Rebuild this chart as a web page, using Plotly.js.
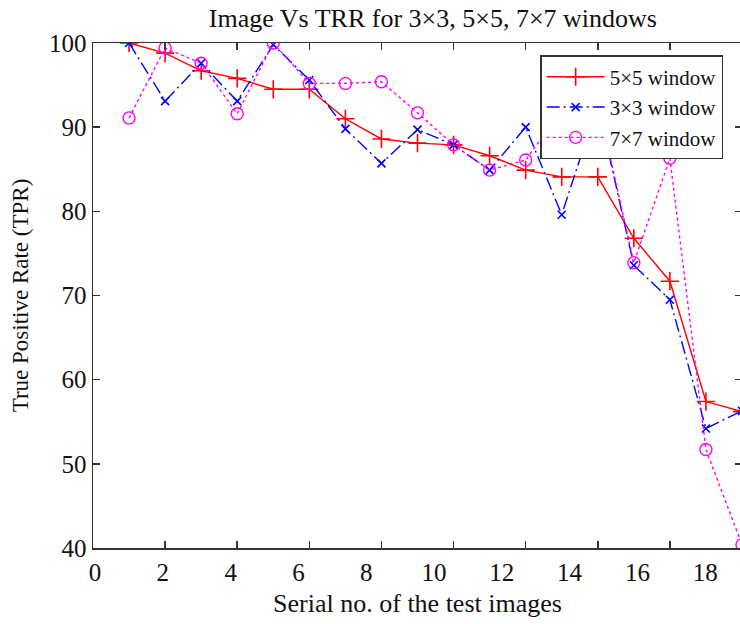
<!DOCTYPE html>
<html>
<head>
<meta charset="utf-8">
<script src="https://cdn.plot.ly/plotly-3.0.1.min.js"></script>
<style>
html, body { margin: 0; padding: 0; overflow: hidden; background: #fff; }
#chart { width: 745px; height: 624px; }
</style>
</head>
<body>
<div id="chart"></div>
<script>
// Serial numbers of the test images
const serialNo = [1, 2, 3, 4, 5, 6, 7, 8, 9, 10, 11, 12, 13, 14, 15, 16, 17, 18];
// True Positive Rate (TPR) per window size
const tpr5x5 = [100, 98.8, 96.7, 95.8, 94.5, 94.5, 91.0, 88.6, 88.1, 87.9, 86.6, 84.9, 84.1, 84.1, 76.8, 71.7, 57.4, 56.2];
const tpr3x3 = [100, 93.1, 97.6, 93.1, 99.8, 95.6, 89.8, 85.7, 89.7, 87.9, 84.9, 90.0, 79.6, 92.7, 73.6, 69.5, 54.2, 56.3];
const tpr7x7 = [91.1, 99.4, 97.6, 91.6, 100, 95.2, 95.2, 95.4, 91.7, 87.9, 84.9, 86.1, 92.0, 93.0, 73.9, 86.3, 51.7, 40.4];
const seriesNames = ['5×5 window', '3×3 window', '7×7 window'];
// Axis ticks
const xTickVals = [0, 2, 4, 6, 8, 10, 12, 14, 16, 18];
const yTickVals = [40, 50, 60, 70, 80, 90, 100];

const FONT = "'Liberation Serif', 'Times New Roman', serif";

const traces = [
  {
    x: serialNo, y: tpr5x5, name: seriesNames[0], type: 'scatter', mode: 'lines+markers',
    line: { color: '#ff0000', width: 1.4 },
    marker: { symbol: 'cross-thin-open', size: 13, line: { color: '#ff0000', width: 1.6 } }
  },
  {
    x: serialNo, y: tpr3x3, name: seriesNames[1], type: 'scatter', mode: 'lines+markers',
    line: { color: '#0000ff', width: 1.4, dash: '13px,4px,2px,4px' },
    marker: { symbol: 'x-thin-open', size: 8, line: { color: '#0000ff', width: 1.6 } }
  },
  {
    x: serialNo, y: tpr7x7, name: seriesNames[2], type: 'scatter', mode: 'lines+markers',
    line: { color: '#ff00ff', width: 1.4, dash: '3px,3px' },
    marker: { symbol: 'circle-open', size: 12, line: { color: '#ff00ff', width: 1.4 } }
  },
  // carrier for the label axis
  { x: [], y: [], xaxis: 'x2', yaxis: 'y', showlegend: false, hoverinfo: 'skip', type: 'scatter' }
];

const layout = {
  width: 745, height: 624,
  margin: { l: 93, r: 3, t: 43, b: 76 },
  paper_bgcolor: '#ffffff', plot_bgcolor: '#ffffff',
  font: { family: FONT, size: 25, color: '#111' },
  showlegend: true,
  title: {
    text: 'Image Vs TRR for 3×3, 5×5, 7×7 windows',
    font: { family: FONT, size: 26, color: '#111' },
    x: 0.581, xanchor: 'center', xref: 'container',
    y: 0.971, yanchor: 'middle', yref: 'container'
  },
  xaxis: {
    range: [0, 18],
    tickvals: xTickVals,
    showticklabels: false,
    ticks: 'inside', ticklen: 7, tickwidth: 1.5, tickcolor: '#333',
    showline: true, linecolor: '#333', linewidth: 1.5, mirror: 'ticks',
    showgrid: false, zeroline: false
  },
  xaxis2: {
    overlaying: 'x', side: 'bottom', anchor: 'y',
    range: [-0.06, 19.085],
    tickvals: xTickVals,
    ticktext: xTickVals.map(String),
    ticks: '', showline: false, showgrid: false, zeroline: false,
    tickfont: { family: FONT, size: 25, color: '#111' },
    ticklabelstandoff: 7,
    title: { text: 'Serial no. of the test images', font: { family: FONT, size: 26, color: '#111' }, standoff: 8 }
  },
  yaxis: {
    range: [40, 100],
    tickvals: yTickVals,
    ticks: 'inside', ticklen: 7, tickwidth: 1.5, tickcolor: '#333',
    showline: true, linecolor: '#333', linewidth: 1.5, mirror: 'ticks',
    showgrid: false, zeroline: false,
    tickfont: { family: FONT, size: 25, color: '#111' },
    title: { text: 'True Positive Rate (TPR)', font: { family: FONT, size: 23, color: '#111' }, standoff: 14 }
  },
  legend: {
    x: 0.689, xanchor: 'left', y: 0.976, yanchor: 'top',
    bgcolor: '#ffffff', bordercolor: '#333', borderwidth: 1.5,
    font: { family: FONT, size: 21, color: '#111' },
    itemwidth: 58,
    tracegroupgap: 0
  }
};

Plotly.newPlot('chart', traces, layout, { staticPlot: true, displayModeBar: false });
</script>
</body>
</html>
